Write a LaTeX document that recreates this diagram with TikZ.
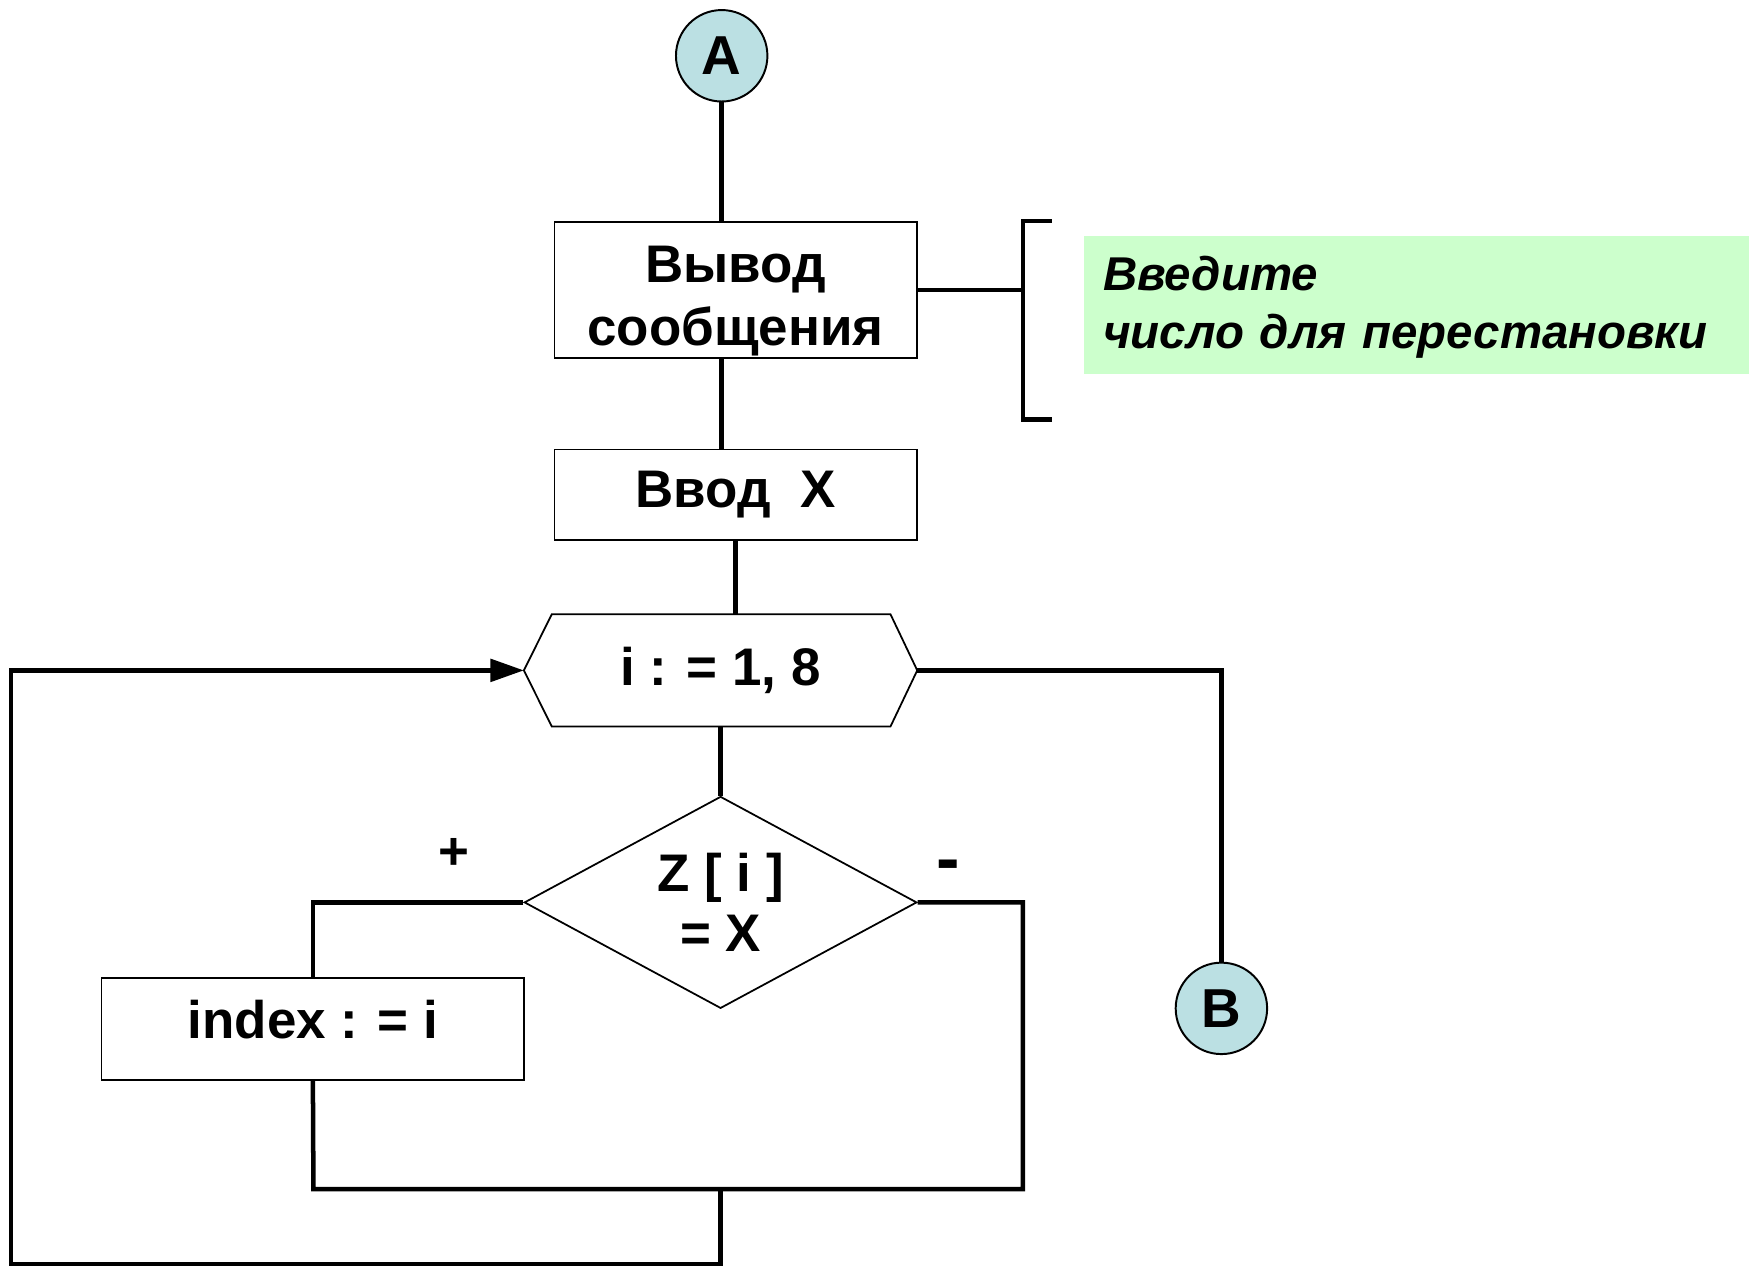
\documentclass[tikz,border=0pt]{standalone}
\usepackage{fontspec}
\setmainfont{Liberation Sans}
\usetikzlibrary{shapes.geometric,arrows.meta}
\definecolor{termfill}{RGB}{187,224,227}
\definecolor{notefill}{RGB}{204,255,204}

\begin{document}
\begin{tikzpicture}[x=0.02cm,y=-0.02cm,
  conn/.style={line width=2.3pt},
  outline/.style={draw,line width=0.9pt},
  box/.style={outline,inner sep=0pt,align=center,font=\fontsize{27}{32}\selectfont\bfseries},
  term/.style={circle,draw,line width=1pt,fill=termfill,minimum size=1.64cm,inner sep=0pt,
    font=\fontsize{28}{32}\selectfont\bfseries},
  lbl/.style={inner sep=0pt,font=\fontsize{27}{32}\selectfont\bfseries}
]
\useasboundingbox (0,0) rectangle (1568,1136);

% terminators
\node[term] (A) at (647,50) {A};
\node[term] (B) at (1095,904) {B};

% process blocks
\node[box,minimum width=6.5cm,minimum height=2.44cm] (box1) at (659.5,260)
  {\rule{0pt}{1.05cm}Вывод\\сообщения};
\node[box,minimum width=6.5cm,minimum height=1.62cm] (box2) at (659.5,443.5) {Ввод\ \ X};
\node[box,minimum width=7.58cm,minimum height=1.82cm,text depth=0.36cm] (box3) at (280.5,922.5)
  {index : = i};

% loop header (hexagon)
\node[inner sep=0pt,minimum width=7.04cm,minimum height=2cm,
  font=\fontsize{27}{32}\selectfont\bfseries] (hex) at (646,601) {i : = 1, 8};
\draw[outline] (hex.west) -- ([xshift=0.5cm]hex.north west) -- ([xshift=-0.48cm]hex.north east)
  -- (hex.east) -- ([xshift=-0.48cm]hex.south east) -- ([xshift=0.5cm]hex.south west) -- cycle;

% decision
\node[diamond,outline,aspect=1.85,inner sep=0pt,minimum width=7.04cm,minimum height=3.8cm,
  align=center,font=\fontsize{27}{31}\selectfont\bfseries] (dia) at (646,809) {Z [ i ]\\= X};

% branch labels
\node[lbl] (plus) at (407,766) {+};
\node[lbl,font=\fontsize{36}{40}\selectfont\bfseries] (minus) at (850,781) {-};

% comment
\node[fill=notefill,minimum width=11.92cm,minimum height=2.46cm,inner sep=0pt] (note) at (1270,273.5) {};
\node[text width=11.24cm,align=left,inner sep=0pt,
  font=\fontsize{24.2}{29.6}\selectfont\bfseries\itshape] (notetext) at ([yshift=-0.04cm]note.center)
  {Введите\\число для перестановки};

% connectors
\draw[conn] (A.south) -- (A.south |- box1.north);
\draw[conn] (A.south |- box1.south) -- (A.south |- box2.north);
\draw[conn] (box2.south) -- (box2.south |- hex.north);
\draw[conn] (hex.south) -- (dia.north);
\draw[conn] (dia.west) -| (box3.north);
\coordinate (mergeL) at (281,1066);
\coordinate (mergeR) at (917,1066);
\draw[conn] (dia.east) -| (mergeR) -- (mergeL) -- (box3.south);
\coordinate (loopBL) at (10,1133);
\draw[conn,-{Triangle[length=0.6cm,width=0.4cm]}] (dia.south |- mergeL) |- (loopBL) |- (hex.west);
\draw[conn] (hex.east) -| (B.north);

% comment bracket
\coordinate (brT) at (917,198);
\coordinate (brB) at (917,376);
\draw[conn] (box1.east) -- (brT |- box1.east);
\draw[conn] ([xshift=0.52cm]brT) -- (brT) -- (brB) -- ([xshift=0.52cm]brB);
\end{tikzpicture}
\end{document}
